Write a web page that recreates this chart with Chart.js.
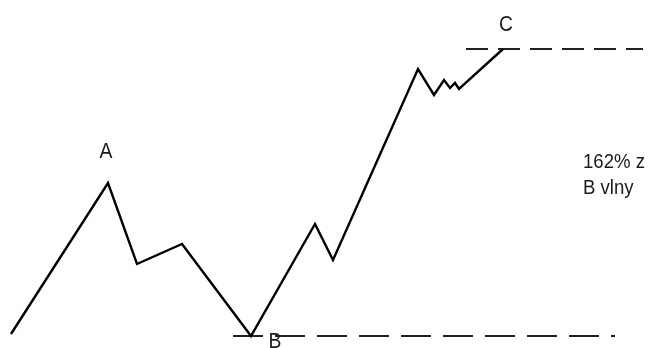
<!DOCTYPE html>
<html>
<head>
<meta charset="utf-8">
<script src="https://cdn.jsdelivr.net/npm/chart.js@4/dist/chart.umd.min.js"></script>
<style>
  body { margin: 0; background: #fff; }
  #wrap { width: 651px; height: 348px; }
</style>
</head>
<body>
<div id="wrap"><canvas id="waveChart" width="651" height="348"></canvas></div>
<script>
// price path
const waveX = [11, 108, 137, 182, 251, 315, 333, 418, 434, 444, 450, 455, 459, 503];
const waveY = [14, 165, 84, 104, 12, 124, 88, 279, 253, 268, 260, 265, 259, 299];

// horizontal reference levels
const levelTopX = [466, 643];
const levelTopY = 299;
const levelLowX = [233, 615];
const levelLowY = 12;

// wave labels and the point each one marks
const waveLabels = ["A", "B", "C"];
const labelPoints = [1, 4, 13];
const noteLines = ["162% z", "B vlny"];

const toPoints = (xs, ys) => xs.map((x, i) => ({ x: x, y: Array.isArray(ys) ? ys[i] : ys }));

// draws text squeezed a little sideways, like the narrow font of the original
function narrowText(ctx, text, x, y, squeeze) {
    ctx.save();
    ctx.translate(x, y);
    ctx.scale(squeeze, 1);
    ctx.fillText(text, 0, 0);
    ctx.restore();
}

const labelPlugin = {
    id: "waveLabels",
    afterDatasetsDraw(chart) {
        const ctx = chart.ctx;
        const sx = chart.scales.x, sy = chart.scales.y;
        const offsets = [[-2, -25], [24, 12], [3, -18]];
        ctx.save();
        ctx.fillStyle = "#1a1a1a";
        ctx.font = "22px 'Liberation Sans', Arial, sans-serif";
        ctx.textAlign = "center";
        ctx.textBaseline = "alphabetic";
        waveLabels.forEach((t, i) => {
            const p = labelPoints[i];
            narrowText(ctx, t, sx.getPixelForValue(waveX[p]) + offsets[i][0], sy.getPixelForValue(waveY[p]) + offsets[i][1], 0.88);
        });
        ctx.font = "20px 'Liberation Sans', Arial, sans-serif";
        ctx.textAlign = "left";
        narrowText(ctx, noteLines[0], sx.getPixelForValue(583), sy.getPixelForValue(180), 0.93);
        narrowText(ctx, noteLines[1], sx.getPixelForValue(583), sy.getPixelForValue(154), 0.93);
        ctx.restore();
    }
};

new Chart(document.getElementById("waveChart"), {
    type: "scatter",
    data: {
        datasets: [
            {
                data: toPoints(waveX, waveY),
                showLine: true,
                borderColor: "#000",
                borderWidth: 2.4,
                pointRadius: 0,
                tension: 0,
                clip: false
            },
            {
                data: toPoints(levelTopX, levelTopY),
                showLine: true,
                borderColor: "#222",
                borderWidth: 2,
                borderDash: [22, 10],
                pointRadius: 0,
                clip: false
            },
            {
                data: toPoints(levelLowX, levelLowY),
                showLine: true,
                borderColor: "#222",
                borderWidth: 2,
                borderDash: [30, 12],
                pointRadius: 0,
                clip: false
            }
        ]
    },
    options: {
        responsive: false,
        animation: false,
        devicePixelRatio: 1,
        layout: { padding: 0 },
        plugins: { legend: { display: false }, tooltip: { enabled: false } },
        scales: {
            x: { type: "linear", min: 0, max: 651, display: false },
            y: { type: "linear", min: 0, max: 348, display: false }
        }
    },
    plugins: [labelPlugin]
});
</script>
</body>
</html>
